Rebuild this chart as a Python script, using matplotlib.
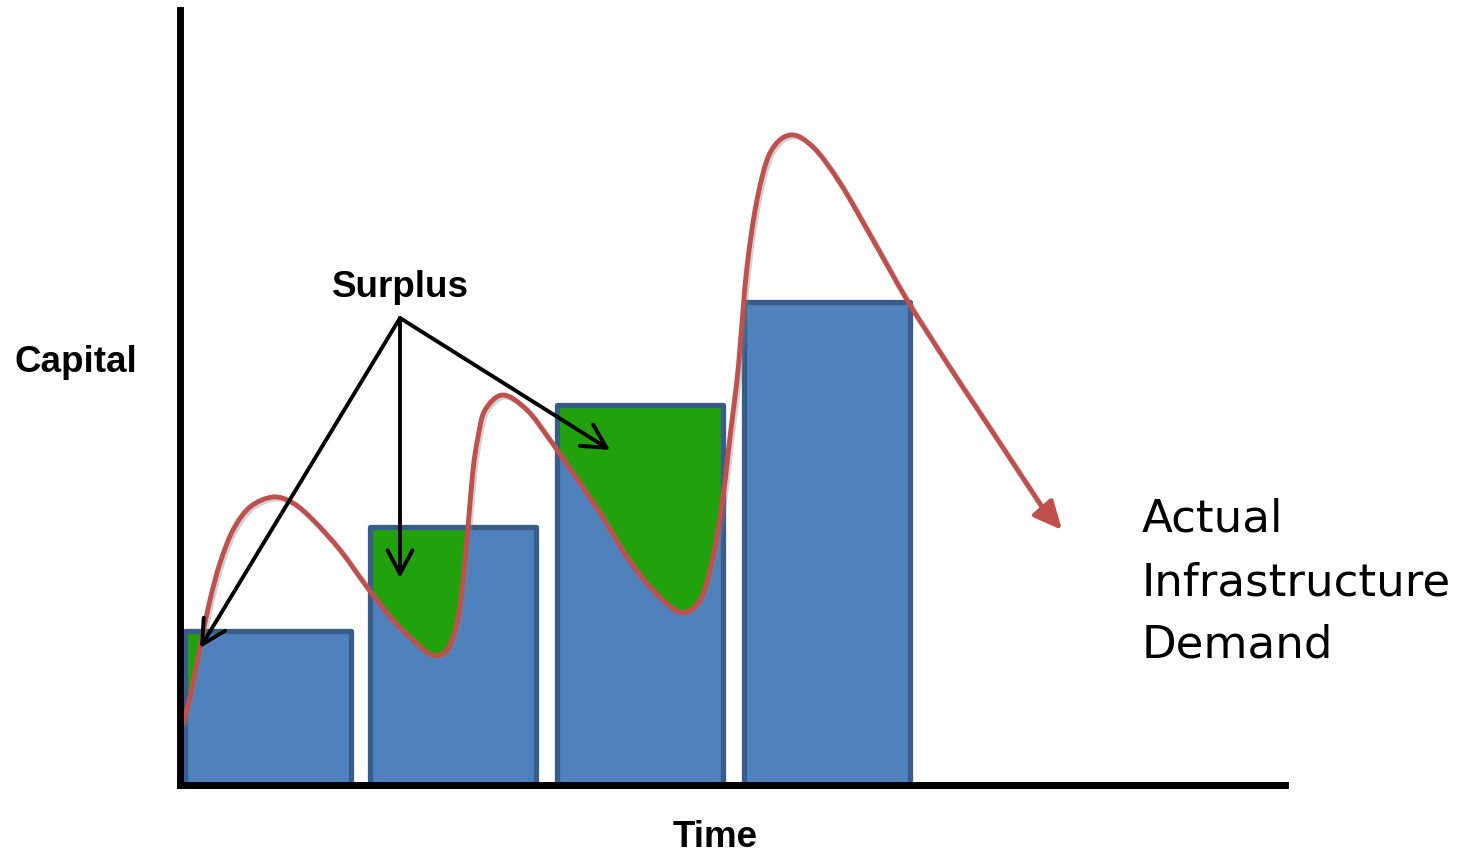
import matplotlib
matplotlib.use("Agg")
from matplotlib import pyplot as plt
from matplotlib.path import Path
from matplotlib.patches import PathPatch
import matplotlib.patheffects as pe
import numpy as np

# capacity blocks (step investments)
bar_x = [0.875, 2.725, 4.60, 6.47]
bar_h = [1.54, 2.58, 3.80, 4.83]
bar_w = 1.66

# actual infrastructure demand curve
demand_x = [0.03, 0.10, 0.20, 0.30, 0.40, 0.53, 0.70, 0.93, 1.13, 1.33,
            1.60, 1.87, 2.13, 2.33, 2.52, 2.67, 2.77, 2.83, 2.88, 2.93,
            2.98, 3.05, 3.23, 3.47, 3.70, 3.93, 4.20, 4.47, 4.73, 5.00,
            5.20, 5.33, 5.43, 5.50, 5.57, 5.60, 5.67, 5.77, 5.90, 6.10,
            6.33, 6.60, 6.93, 7.27, 7.67, 8.00, 8.33, 8.62, 8.82]
demand_y = [0.62, 0.88, 1.38, 1.85, 2.22, 2.55, 2.78, 2.88, 2.82, 2.65,
            2.35, 1.98, 1.65, 1.45, 1.30, 1.35, 1.62, 2.05, 2.58, 3.15,
            3.48, 3.75, 3.90, 3.75, 3.45, 3.12, 2.72, 2.28, 1.95, 1.73,
            1.85, 2.28, 2.88, 3.48, 4.05, 4.38, 5.18, 5.85, 6.32, 6.50,
            6.38, 6.02, 5.45, 4.85, 4.22, 3.72, 3.22, 2.78, 2.55]

# arrows pointing at the surplus areas
surplus_from = (2.20, 4.67)
surplus_to = [(0.20, 1.37), (2.20, 2.07), (4.30, 3.35)]

blue = '#4f81bd'
blue_edge = '#385d8a'
green = '#21a20c'
red = '#c0504d'


def smooth_path(xs, ys, close_top=None):
    # catmull-rom through the points, written as cubic bezier segments
    p = np.column_stack([xs, ys])
    verts = [p[0]]
    codes = [Path.MOVETO]
    n = len(p)
    for i in range(n - 1):
        p0 = p[max(i - 1, 0)]
        p1 = p[i]
        p2 = p[i + 1]
        p3 = p[min(i + 2, n - 1)]
        verts += [p1 + (p2 - p0) / 6, p2 - (p3 - p1) / 6, p2]
        codes += [Path.CURVE4] * 3
    if close_top is not None:
        verts += [(p[-1][0], close_top), (p[0][0], close_top), p[0]]
        codes += [Path.LINETO, Path.LINETO, Path.CLOSEPOLY]
    return Path(verts, codes)


fig = plt.figure(figsize=(14.6, 8.56), dpi=100)
ax = fig.add_axes([180/1460, 71/856, 1105/1460, 775/856])
ax.set_xlim(0, 11.05)
ax.set_ylim(0, 7.75)

for s in ['top', 'right']:
    ax.spines[s].set_visible(False)
for s in ['left', 'bottom']:
    ax.spines[s].set_linewidth(5)
    ax.spines[s].set_color('black')
    ax.spines[s].set_zorder(10)
ax.set_xticks([])
ax.set_yticks([])

bars = ax.bar(bar_x, bar_h, bar_w, color=blue, edgecolor='none', zorder=2)

# surplus = part of each block sitting above the demand curve
for b in bars:
    g = PathPatch(smooth_path(demand_x, demand_y, close_top=10),
                  facecolor=green, lw=0, zorder=3)
    ax.add_patch(g)
    g.set_clip_path(b)

ax.bar(bar_x, bar_h, bar_w, fill=False, edgecolor=blue_edge, lw=3.8,
       joinstyle='round', zorder=4)

shadow = [pe.SimpleLineShadow(offset=(1.5, -1.5), shadow_color='gray', alpha=0.35),
          pe.Normal()]
line = PathPatch(smooth_path(demand_x[:-1], demand_y[:-1]), fill=False,
                 edgecolor=red, lw=3.5, joinstyle='round', capstyle='round',
                 zorder=5, path_effects=shadow)
ax.add_patch(line)
ax.annotate('', xy=(demand_x[-1], demand_y[-1]), xytext=(demand_x[-2], demand_y[-2]),
            arrowprops=dict(arrowstyle='-|>,head_length=0.85,head_width=0.4',
                            color=red, lw=3.5, mutation_scale=20,
                            shrinkA=0, shrinkB=0),
            zorder=5)

for tip in surplus_to:
    ax.annotate('', xy=tip, xytext=surplus_from,
                arrowprops=dict(arrowstyle='->,head_length=0.85,head_width=0.45',
                                color='black', lw=2.8, mutation_scale=20,
                                shrinkA=0, shrinkB=0),
                zorder=6)

bold = dict(family=['Liberation Sans', 'DejaVu Sans'], fontweight='bold',
            fontsize=26.5, ha='center', va='baseline', clip_on=False)
ax.text(2.20, 4.88, 'Surplus', **bold)
ax.text(-1.04, 4.13, 'Capital', **bold)
ax.text(5.35, -0.62, 'Time', **bold)

for txt, yb in zip(['Actual', 'Infrastructure', 'Demand'], [2.53, 1.90, 1.28]):
    ax.text(9.62, yb, txt, family='DejaVu Sans', fontsize=32.5, ha='left',
            va='baseline', clip_on=False)

fig.savefig('out.png', dpi=100)
